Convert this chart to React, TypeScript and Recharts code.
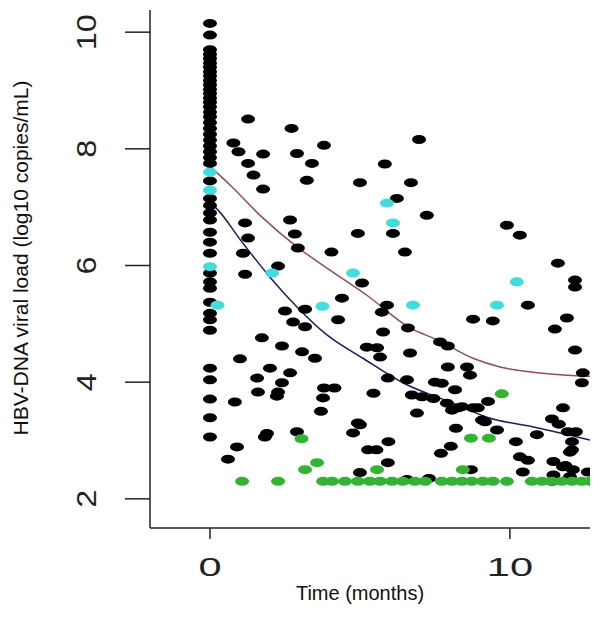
import React from 'react';
import { ComposedChart, Scatter, Line, XAxis, YAxis, Label } from 'recharts';

const xTicks = [0, 10];
const yTicks = [2, 4, 6, 8, 10];
const xTitle = 'Time (months)';
const yTitle = 'HBV-DNA viral load (log10 copies/mL)';

// black points at month 0 (y values)
const baselineBlack: number[] = [
  10.15, 9.95, 9.7, 9.62, 9.55, 9.47, 9.4, 9.32, 9.25, 9.17, 9.1, 9.02, 8.95, 8.87, 8.8, 8.72,
  8.63, 8.55, 8.45, 8.35, 8.25, 8.15, 8.05, 7.95, 7.85, 7.75, 7.45, 7.15, 7.03, 6.9, 6.78, 6.57,
  6.4, 6.21, 5.87, 5.72, 5.61, 5.37, 5.18, 5.07, 4.89, 4.24, 4.04, 3.71, 3.39, 3.06,
];

// black points during follow-up [month, log10 load]
const followBlack: [number, number][] = [
  [1.27, 8.51], [2.72, 8.35], [0.78, 8.1], [0.95, 7.95], [3.8, 8.06], [1.77, 7.91], [2.9, 7.92],
  [1.27, 7.75], [3.4, 7.75], [1.45, 7.55], [3.23, 7.46], [5.0, 7.42], [6.97, 8.16], [5.83, 7.74],
  [6.7, 7.42], [6.23, 7.15], [7.23, 6.86], [4.93, 6.55], [6.1, 6.55], [9.9, 6.69], [10.33, 6.52],
  [4.05, 6.23], [6.5, 6.23], [11.6, 6.04], [12.17, 5.75], [12.17, 5.63], [5.07, 5.7], [4.4, 5.44],
  [5.9, 5.32], [10.6, 5.32], [1.77, 7.31], [1.17, 6.73], [2.67, 6.78], [1.27, 6.47], [2.83, 6.54],
  [2.93, 6.3], [1.1, 6.21], [2.27, 5.99], [1.17, 5.85], [2.5, 5.22], [3.17, 5.25], [2.77, 5.03],
  [3.17, 4.95], [4.27, 5.07], [1.73, 4.76], [2.4, 4.62], [3.07, 4.52], [3.5, 4.41], [1.0, 4.4],
  [5.23, 4.6], [8.77, 5.08], [9.43, 5.05], [11.9, 5.1], [11.5, 4.91], [5.73, 5.2], [5.77, 4.86],
  [6.6, 4.93], [7.67, 4.69], [7.93, 4.62], [6.67, 4.5], [5.57, 4.59], [12.17, 4.55], [5.67, 4.43],
  [12.43, 4.16], [12.4, 3.99], [7.93, 4.26], [8.57, 4.26], [8.67, 4.12], [5.93, 4.07], [6.57, 4.04],
  [7.5, 4.0], [7.73, 3.98], [3.8, 3.9], [4.15, 3.9], [5.45, 3.81], [6.73, 3.78], [7.07, 3.75],
  [8.17, 3.87], [3.77, 3.73], [7.45, 3.72], [7.9, 3.64], [8.27, 3.56], [8.77, 3.56], [9.27, 3.67],
  [3.7, 3.5], [6.9, 3.47], [9.07, 3.35], [8.4, 3.58], [8.07, 3.52], [8.93, 3.56], [9.17, 3.32],
  [11.77, 3.56], [11.4, 3.37], [11.63, 3.28], [11.93, 3.15], [12.2, 3.15], [10.9, 3.1], [5.0, 3.27],
  [4.77, 3.13], [8.2, 3.21], [9.57, 3.18], [10.2, 2.98], [12.07, 2.98], [12.0, 2.8], [5.95, 2.98],
  [5.55, 2.84], [8.03, 2.9], [7.7, 2.78], [10.33, 2.72], [10.6, 2.66], [5.93, 2.62], [11.45, 2.64],
  [11.85, 2.57], [10.43, 2.46], [5.0, 2.45], [8.7, 2.5], [12.1, 2.5], [12.6, 2.46], [6.57, 2.33],
  [7.3, 2.35], [11.4, 2.3], [11.45, 2.41], [12.0, 2.38], [12.07, 2.84], [11.77, 2.55],
  [0.83, 3.66], [0.9, 2.89], [0.6, 2.68], [2.0, 4.24], [2.67, 4.16], [1.57, 4.07], [2.4, 3.99],
  [1.6, 3.83], [2.27, 3.83], [2.23, 3.76], [1.83, 3.06], [1.9, 3.12], [2.9, 3.15], [4.93, 3.3],
  [5.27, 2.84],
];

const cyanPts: [number, number][] = [
  [0, 7.6], [0, 7.29], [0, 5.98], [0.25, 5.32], [2.07, 5.87], [3.75, 5.3], [4.77, 5.87],
  [5.9, 7.07], [6.1, 6.73], [6.77, 5.32], [9.57, 5.32], [10.23, 5.72],
];

const greenUpper: [number, number][] = [
  [3.05, 3.03], [3.57, 2.62], [3.17, 2.5], [5.57, 2.5], [8.43, 2.5], [8.7, 3.04], [9.3, 3.04],
  [9.73, 3.8],
];

// green points at the detection limit (2.3), by month
const greenFloorX: number[] = [
  1.07, 2.27, 3.77, 4.07, 4.5, 4.93, 5.33, 5.67, 6.07, 6.43, 6.83, 7.17, 7.73, 8.07, 8.4, 8.73,
  9.1, 9.43, 9.9, 10.73, 11.07, 11.4, 11.73, 12.07, 12.4, 12.67,
];
const floorValue = 2.3;

const redCurve: [number, number][] = [
  [0, 7.7], [0.67, 7.38], [1.67, 6.86], [2.9, 6.32], [4.0, 5.92], [5.23, 5.49], [6.67, 4.93],
  [7.6, 4.72], [8.77, 4.41], [9.67, 4.26], [10.77, 4.17], [11.9, 4.12], [12.67, 4.1],
];

const navyCurve: [number, number][] = [
  [0, 7.07], [0.17, 7.0], [1.1, 6.38], [2.0, 5.8], [2.9, 5.29], [3.9, 4.81], [5.1, 4.41],
  [6.43, 3.99], [8.1, 3.64], [9.23, 3.4], [10.9, 3.22], [12.67, 3.01],
];

const toObj = (arr: [number, number][]) => arr.map(([x, y]) => ({ x, y }));

const blackData = [...baselineBlack.map((y) => ({ x: 0, y })), ...toObj(followBlack)];
const cyanData = toObj(cyanPts);
const greenData = [...toObj(greenUpper), ...greenFloorX.map((x) => ({ x, y: floorValue }))];
const redData = toObj(redCurve);
const navyData = toObj(navyCurve);

const dot = (color: string) => (props: any) => {
  const { cx, cy } = props;
  if (cx == null || cy == null) return <g />;
  return <ellipse cx={cx} cy={cy} rx={7} ry={4.5} fill={color} />;
};

const YTick = (props: any) => {
  const { y, payload } = props;
  return (
    <text
      transform={`translate(86,${y}) rotate(-90) scale(1.2,1)`}
      textAnchor="middle"
      dominantBaseline="central"
      fontFamily="Liberation Sans, Arial, sans-serif"
      fontSize={27}
      fill="#222"
    >
      {payload.value}
    </text>
  );
};

const XTick = (props: any) => {
  const { x, payload } = props;
  return (
    <text
      transform={`translate(${x},567) scale(1.6,1)`}
      textAnchor="middle"
      dominantBaseline="central"
      fontFamily="Liberation Sans, Arial, sans-serif"
      fontSize={26}
      fill="#222"
    >
      {payload.value}
    </text>
  );
};

export default function App() {
  return (
    <div style={{ position: 'absolute', left: 0, top: 0, width: 602, height: 618, background: '#fff' }}>
      <ComposedChart width={602} height={618} margin={{ top: 10, right: 12, left: 0, bottom: 0 }}>
        <XAxis
          type="number"
          dataKey="x"
          domain={[-2, 12.67]}
          ticks={xTicks}
          allowDataOverflow
          height={90}
          stroke="#222"
          strokeWidth={1.5}
          tickSize={11}
          tick={<XTick />}
          tickLine={{ stroke: '#222', strokeWidth: 1.5 }}
        >
          <Label
            content={() => (
              <text
                x={360}
                y={600}
                textAnchor="middle"
                fontFamily="Liberation Sans, Arial, sans-serif"
                fontSize={20}
                fill="#111"
              >
                {xTitle}
              </text>
            )}
          />
        </XAxis>
        <YAxis
          type="number"
          dataKey="y"
          domain={[1.5, 10.38]}
          ticks={yTicks}
          allowDataOverflow
          width={150}
          stroke="#222"
          strokeWidth={1.5}
          tickSize={25}
          tick={<YTick />}
          tickLine={{ stroke: '#222', strokeWidth: 1.5 }}
        >
          <Label
            content={() => (
              <text
                transform="translate(20,258) rotate(-90)"
                textAnchor="middle"
                dominantBaseline="central"
                fontFamily="Liberation Sans, Arial, sans-serif"
                fontSize={21}
                fill="#111"
              >
                {yTitle}
              </text>
            )}
          />
        </YAxis>
        <Scatter data={blackData} fill="#000" shape={dot('#000')} isAnimationActive={false} />
        <Scatter data={cyanData} fill="#3fdede" shape={dot('#3fdede')} isAnimationActive={false} />
        <Scatter data={greenData} fill="#2fb52f" shape={dot('#2fb52f')} isAnimationActive={false} />
        <Line
          data={redData}
          dataKey="y"
          type="monotone"
          stroke="#9a4a55"
          strokeWidth={1.5}
          dot={false}
          activeDot={false}
          isAnimationActive={false}
        />
        <Line
          data={navyData}
          dataKey="y"
          type="monotone"
          stroke="#1c1c60"
          strokeWidth={1.5}
          dot={false}
          activeDot={false}
          isAnimationActive={false}
        />
      </ComposedChart>
    </div>
  );
}
